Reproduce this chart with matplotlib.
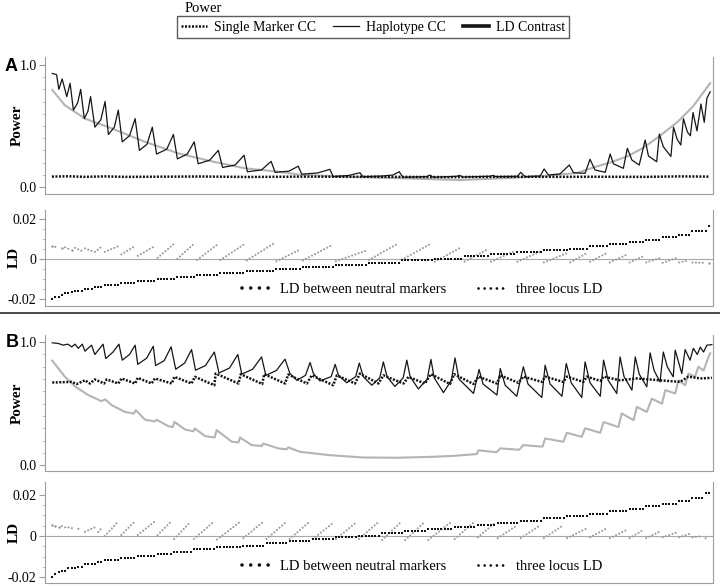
import matplotlib.pyplot as plt
from matplotlib.lines import Line2D
import numpy as np

plt.rcParams['font.family'] = ['Liberation Serif', 'DejaVu Serif']

# x axis is the marker pair index (0..199), y is power or LD

# ---- panel A, power curves: (index, power) vertices ----
a_haplotype = [
    (0.1, 0.93), (1.4, 0.92), (2.1, 0.80), (3.1, 0.885), (4.5, 0.74), (5.5, 0.85), (6.5, 0.63),
    (7.8, 0.69), (8.7, 0.80), (9.8, 0.56), (10.9, 0.62), (11.7, 0.74), (13.0, 0.49), (14.8, 0.55),
    (16.1, 0.70), (17.1, 0.43), (18.9, 0.49), (20.1, 0.63), (21.3, 0.37), (23.5, 0.42), (25.2, 0.56),
    (26.5, 0.30), (28.8, 0.35), (30.4, 0.49), (31.7, 0.27), (34.8, 0.31), (36.8, 0.43), (38.0, 0.23),
    (41.0, 0.27), (43.1, 0.37), (44.3, 0.19), (47.8, 0.22), (50.4, 0.30), (51.7, 0.16), (55.5, 0.18),
    (58.2, 0.26), (59.2, 0.125), (63.5, 0.14), (66.4, 0.21), (67.6, 0.12), (71.8, 0.13), (74.6, 0.17),
    (75.7, 0.105), (80.5, 0.115), (84.2, 0.145), (85.2, 0.085), (90.0, 0.095), (93.3, 0.117),
    (94.2, 0.085), (100.0, 0.09), (103.3, 0.098), (105.2, 0.125), (106.3, 0.08), (113.5, 0.085),
    (114.5, 0.098), (115.5, 0.08), (122.6, 0.088), (123.5, 0.095), (124.5, 0.082), (132.7, 0.088),
    (133.6, 0.095), (134.5, 0.085), (141.0, 0.088), (142.0, 0.12), (143.3, 0.085), (147.9, 0.09),
    (149.1, 0.148), (150.4, 0.098), (153.9, 0.107), (156.7, 0.18), (158.0, 0.117), (161.5, 0.112),
    (163.0, 0.227), (164.5, 0.14), (167.6, 0.12), (169.1, 0.27), (170.1, 0.19), (173.1, 0.153),
    (174.3, 0.317), (175.7, 0.22), (177.9, 0.18), (179.7, 0.385), (180.7, 0.254), (183.2, 0.207),
    (184.0, 0.434), (185.2, 0.33), (187.5, 0.25), (188.3, 0.49), (189.4, 0.39), (190.5, 0.344),
    (191.3, 0.56), (192.5, 0.45), (193.4, 0.42), (194.2, 0.61), (195.4, 0.46), (196.6, 0.68),
    (197.6, 0.53), (198.4, 0.727), (199.4, 0.78),
]
a_ld_contrast = [
    (0.1, 0.795), (3.9, 0.67), (10.0, 0.56), (18.1, 0.48), (28.2, 0.37), (38.3, 0.275), (48.4, 0.21),
    (58.5, 0.153), (68.6, 0.125), (75.2, 0.10), (84.2, 0.09), (93.3, 0.08), (103.3, 0.074),
    (123.6, 0.057), (138.8, 0.074), (148.8, 0.09), (159.1, 0.115), (164.0, 0.16), (169.0, 0.20),
    (174.2, 0.25), (179.1, 0.32), (184.2, 0.42), (189.4, 0.53), (194.2, 0.66), (199.4, 0.85),
]
a_single = [
    (0, 0.085), (5, 0.088), (10, 0.083), (16, 0.087), (22, 0.083), (30, 0.084), (45, 0.086),
    (60, 0.082), (75, 0.085), (90, 0.084), (105, 0.083), (120, 0.081), (135, 0.084), (150, 0.083),
    (165, 0.084), (180, 0.083), (190, 0.087), (199, 0.085),
]

# ---- panel A, LD: blocks of marker pairs (first, last index) ----
a_blk_first = [0, 1, 3, 4, 6, 7, 10, 13, 16, 21, 26, 32, 38, 44, 51, 59, 68, 76, 86, 96,
               106, 116, 125, 133, 141, 149, 157, 163, 169, 175, 180, 185, 190, 194, 199]
a_blk_last = [0, 2, 3, 5, 6, 9, 12, 15, 20, 25, 31, 37, 43, 50, 58, 67, 75, 85, 95, 105,
              115, 124, 132, 140, 148, 156, 162, 168, 174, 179, 184, 189, 193, 198, 199]
a_ld_neutral = [-0.0202, -0.0192, -0.018, -0.0172, -0.0165, -0.0163, -0.015, -0.0142, -0.0133,
                -0.0123, -0.0113, -0.0102, -0.0092, -0.0083, -0.0073, -0.0063, -0.0052, -0.0042,
                -0.0032, -0.0022, -0.0008, 0.0, 0.0012, 0.0025, 0.0033, 0.0042, 0.005, 0.0062,
                0.0073, 0.0083, 0.0095, 0.0107, 0.012, 0.0137, 0.0165]
a_three_first = [0.0062, 0.0060, 0.0055, 0.0058, 0.0045, 0.0055, 0.0052, 0.0035, 0.0035, 0.0022,
                 0.0015, 0.0005, 0.0, -0.0005, -0.0006, -0.0008, -0.0012, -0.0008, -0.0012, -0.0006,
                 -0.0005, -0.0014, -0.0014, -0.0014, -0.0014, -0.0018, -0.0018, -0.0014, -0.0018,
                 -0.0018, -0.0018, -0.002, -0.0018, -0.0018, -0.002]
a_three_last = [0.0062, 0.0058, 0.0055, 0.005, 0.0045, 0.004, 0.004, 0.006, 0.0062, 0.0062,
                0.0062, 0.0075, 0.0075, 0.007, 0.007, 0.0075, 0.0045, 0.007, 0.004, 0.0078,
                0.0078, 0.0058, 0.0048, 0.0037, 0.0037, 0.0028, 0.0028, 0.0028, 0.002, 0.0012,
                0.0003, 0.0003, -0.0008, -0.002, -0.002]

# ---- panel B, power curves ----
b_haplotype = [
    (0.1, 0.995), (1.9, 0.99), (3.4, 0.976), (4.8, 0.984), (6.0, 0.962), (7.0, 0.984), (8.0, 0.95),
    (9.2, 0.984), (10.0, 0.927), (12.0, 0.976), (13.0, 0.90), (15.5, 0.984), (16.3, 0.867),
    (18.5, 0.92), (20.3, 0.984), (21.3, 0.854), (23.5, 0.90), (25.2, 0.976), (26.0, 0.82),
    (28.7, 0.87), (30.7, 0.967), (31.4, 0.81), (34.0, 0.85), (36.1, 0.962), (37.5, 0.78),
    (40.2, 0.83), (42.3, 0.94), (43.5, 0.772), (46.5, 0.81), (49.2, 0.92), (50.6, 0.75),
    (53.8, 0.79), (56.3, 0.90), (57.5, 0.74), (60.8, 0.78), (63.5, 0.88), (64.8, 0.73), (68.0, 0.77),
    (70.6, 0.862), (72.1, 0.745), (74.2, 0.69), (76.8, 0.73), (78.2, 0.835), (79.2, 0.745),
    (81.2, 0.685), (84.6, 0.72), (85.8, 0.82), (86.8, 0.73), (89.3, 0.67), (92.0, 0.72), (93.1, 0.83),
    (94.3, 0.72), (96.9, 0.65), (99.3, 0.71), (100.4, 0.84), (101.5, 0.72), (103.9, 0.64),
    (106.4, 0.71), (107.5, 0.854), (108.5, 0.72), (111.0, 0.62), (113.7, 0.70), (114.8, 0.86),
    (115.8, 0.71), (118.6, 0.59), (121.0, 0.69), (122.1, 0.872), (123.3, 0.70), (127.7, 0.583),
    (129.4, 0.778), (130.6, 0.66), (134.8, 0.57), (135.8, 0.786), (137.3, 0.65), (140.8, 0.56),
    (142.8, 0.80), (144.2, 0.66), (148.4, 0.55), (149.4, 0.813), (150.9, 0.66), (154.5, 0.56),
    (155.8, 0.827), (157.3, 0.67), (160.5, 0.55), (161.5, 0.84), (163.0, 0.67), (166.1, 0.56),
    (167.1, 0.854), (168.5, 0.69), (171.1, 0.583), (172.1, 0.88), (173.3, 0.72), (175.7, 0.61),
    (176.7, 0.88), (177.9, 0.74), (180.2, 0.637), (181.2, 0.913), (182.4, 0.77), (184.2, 0.677),
    (185.2, 0.92), (186.4, 0.80), (188.2, 0.718), (188.8, 0.935), (190.8, 0.745), (191.8, 0.94),
    (193.3, 0.854), (194.3, 0.95), (195.5, 0.90), (196.4, 0.96), (197.4, 0.92), (198.4, 0.976),
    (199.9, 0.98),
]
b_ld_contrast = [
    (0.1, 0.85), (3.9, 0.72), (7.0, 0.64), (11.0, 0.57), (15.0, 0.52), (16.1, 0.535), (18.1, 0.488),
    (22.1, 0.433), (24.8, 0.42), (25.4, 0.447), (28.2, 0.37), (31.2, 0.355), (31.7, 0.37),
    (35.2, 0.317), (36.6, 0.31), (37.1, 0.352), (40.3, 0.29), (42.8, 0.275), (43.3, 0.298),
    (46.4, 0.236), (49.3, 0.225), (49.9, 0.285), (54.5, 0.19), (56.5, 0.185), (57.0, 0.225),
    (60.5, 0.163), (63.5, 0.155), (64.0, 0.176), (68.6, 0.136), (71.0, 0.128), (71.6, 0.144),
    (75.2, 0.108), (84.2, 0.081), (94.3, 0.062), (104.5, 0.06), (114.5, 0.067), (121.6, 0.075),
    (128.7, 0.09), (129.2, 0.12), (134.7, 0.105), (135.8, 0.136), (141.5, 0.125), (142.8, 0.163),
    (148.6, 0.15), (149.4, 0.217), (154.9, 0.19), (156.0, 0.263), (160.5, 0.23), (161.5, 0.30),
    (166.1, 0.263), (167.1, 0.35), (171.6, 0.31), (172.6, 0.42), (176.2, 0.366), (177.2, 0.474),
    (180.2, 0.433), (181.7, 0.54), (184.8, 0.50), (185.8, 0.61), (188.8, 0.583), (189.8, 0.69),
    (191.8, 0.65), (192.8, 0.745), (194.8, 0.718), (195.8, 0.80), (197.4, 0.77), (198.9, 0.88),
    (199.4, 0.91),
]
b_single = [
    (0.1, 0.672), (6.0, 0.677), (7.5, 0.66), (10.0, 0.69), (11.5, 0.664), (13.0, 0.697),
    (15.8, 0.664), (16.6, 0.697), (20.1, 0.664), (21.1, 0.705), (25.2, 0.664), (26.0, 0.71),
    (30.2, 0.664), (31.2, 0.705), (36.3, 0.664), (37.1, 0.718), (42.3, 0.664), (43.3, 0.718),
    (49.2, 0.65), (49.6, 0.745), (56.5, 0.664), (57.2, 0.74), (63.7, 0.66), (64.3, 0.74),
    (70.6, 0.664), (71.6, 0.737), (77.2, 0.664), (78.7, 0.73), (85.2, 0.65), (86.3, 0.73),
    (91.8, 0.664), (93.3, 0.745), (98.9, 0.664), (100.4, 0.73), (106.5, 0.664), (108.0, 0.718),
    (113.0, 0.664), (114.8, 0.74), (120.6, 0.66), (121.8, 0.74), (127.7, 0.66), (129.2, 0.72),
    (134.8, 0.664), (135.8, 0.73), (141.3, 0.67), (142.8, 0.72), (148.4, 0.677), (149.4, 0.72),
    (154.9, 0.677), (156.0, 0.72), (161.0, 0.677), (162.0, 0.72), (166.1, 0.685), (167.1, 0.72),
    (172.1, 0.69), (177.2, 0.705), (184.2, 0.69), (190.3, 0.677), (192.8, 0.72), (196.4, 0.705),
    (199.9, 0.71),
]

# ---- panel B, LD ----
b_blk_first = [0, 1, 2, 3, 5, 8, 10, 14, 16, 21, 26, 32, 37, 43, 50, 58, 65, 72, 79, 86,
               93, 100, 107, 114, 122, 129, 135, 142, 149, 156, 163, 169, 175, 180, 185, 190, 194, 198]
b_blk_last = [0, 1, 2, 4, 7, 9, 13, 15, 20, 25, 31, 36, 42, 49, 57, 64, 71, 78, 85, 92,
              99, 106, 113, 121, 128, 134, 141, 148, 155, 162, 168, 174, 179, 184, 189, 193, 197, 199]
b_ld_neutral = [-0.0196, -0.0183, -0.0175, -0.0167, -0.0156, -0.0148, -0.0137, -0.0125, -0.0116,
                -0.0106, -0.0096, -0.0087, -0.0076, -0.0064, -0.0055, -0.0047, -0.0035, -0.0024,
                -0.0016, -0.0006, 0.0, 0.0013, 0.0024, 0.0034, 0.0045, 0.0053, 0.0064, 0.0074,
                0.0085, 0.0096, 0.0109, 0.012, 0.0133, 0.0145, 0.0157, 0.017, 0.0185, 0.0206]
b_three_first = [0.0053, 0.005, 0.0045, 0.0048, 0.0042, 0.0035, 0.0021, 0.002, 0.0, 0.0005,
                 0.0005, 0.0005, -0.0014, -0.0014, -0.0017, -0.001, -0.0014, -0.0014, -0.0014,
                 -0.0014, -0.0014, -0.0019, -0.0019, -0.0019, -0.0014, -0.0006, -0.001, -0.001,
                 -0.001, -0.001, -0.0006, -0.001, -0.001, -0.001, -0.0006, -0.0006, -0.0006, -0.001]
b_three_last = [0.0053, 0.005, 0.0045, 0.0042, 0.0035, 0.0037, 0.0042, 0.0038, 0.0069, 0.0069,
                0.0069, 0.0069, 0.0069, 0.0069, 0.0069, 0.0069, 0.0069, 0.0069, 0.0061, 0.0064,
                0.0069, 0.0072, 0.0069, 0.0069, 0.0069, 0.0061, 0.0053, 0.0053, 0.0053, 0.0037,
                0.0037, 0.0029, 0.0029, 0.0021, 0.0016, 0.001, 0.0, -0.0006]

GRAY = '#b4b4b4'
LD_GRAY = '#9a9a9a'
SPINE = '#9c9c9c'
DOTS = dict(color='#111111', lw=1.8, linestyle=(0, (0.8, 0.6)), dash_capstyle='butt')


def style_axes(ax, ylim, ticks, labels, minor, ylabel, label_x):
    """Common look of the four panels: no x ticks, grey open frame, serif labels."""
    ax.set_xlim(-2.1, 200.3)
    ax.set_ylim(*ylim)
    ax.set_xticks([])
    ax.set_yticks(ticks)
    ax.set_yticklabels(labels)
    ax.set_yticks(minor, minor=True)
    ax.spines['top'].set_visible(False)
    for side in ['left', 'right', 'bottom']:
        ax.spines[side].set_color(SPINE)
        ax.spines[side].set_linewidth(0.8)
    ax.tick_params(axis='y', which='major', length=4, width=0.8, color=SPINE,
                   labelsize=10, pad=2)
    ax.tick_params(axis='y', which='minor', length=2, width=0.6, color='#bbbbbb')
    ax.set_ylabel(ylabel, fontsize=11, fontweight='bold')
    ax.yaxis.set_label_coords(label_x, 0.5)


def plot_power(ax, single, haplotype, contrast):
    """Draw the three power curves of one panel."""
    x, y = zip(*contrast)
    ax.plot(x, y, color=GRAY, lw=1.5, zorder=2)
    x, y = zip(*haplotype)
    ax.plot(x, y, color='#151515', lw=0.9, zorder=3)
    x, y = zip(*single)
    ax.plot(x, y, zorder=4, **DOTS)
    style_axes(ax, ax.get_ylim(), [0.0, 1.0], ['0.0', '1.0'],
               np.arange(0.1, 1.0, 0.1), 'Power', -0.032)


def plot_ld(ax, first, last, neutral, three_first, three_last, ylim):
    """Draw LD between neutral markers (black steps) and three locus LD (grey runs)."""
    ax.axhline(0, color='#a8a8a8', lw=0.8, zorder=1)
    for s, e, y0, y1 in zip(first, last, three_first, three_last):
        if s == e:
            ax.plot([s], [y0], marker='o', ms=1.8, mew=0, color=LD_GRAY, zorder=2)
        else:
            ax.plot([s, e], [y0, y1], color=LD_GRAY, lw=1.5,
                    linestyle=(0, (0.05, 1.6)), dash_capstyle='round', zorder=2)
    xs = np.concatenate([np.arange(s, e + 1) for s, e in zip(first, last)])
    ys = np.concatenate([np.full(e - s + 1, v) for s, e, v in zip(first, last, neutral)])
    ax.plot(xs, ys, linestyle='none', marker='s', ms=2.1, mew=0, color='#111111', zorder=3)
    style_axes(ax, ylim, [-0.02, 0, 0.02], ['-0.02', '0', '0.02'],
               np.arange(-0.02, 0.021, 0.005), 'LD', -0.036)
    h1 = Line2D([], [], color='#111111', lw=2.6, linestyle=(0, (0.01, 2.4)),
                dash_capstyle='round')
    h2 = Line2D([], [], color='#111111', lw=2.0, linestyle=(0, (0.01, 2.2)),
                dash_capstyle='round')
    ax.legend([h1, h2], ['LD between neutral markers', 'three locus LD'],
              loc='lower center', bbox_to_anchor=(0.565, -0.035), ncol=2, frameon=False,
              fontsize=10.5, handlelength=2.0, columnspacing=2.2, handletextpad=0.6)


fig = plt.figure(figsize=(7.2, 5.86), dpi=100)

ax_a = fig.add_axes([0.0625, 0.669, 0.928, 0.234])
ax_a.set_ylim(-0.057, 1.066)
plot_power(ax_a, a_single, a_haplotype, a_ld_contrast)

ax_a_ld = fig.add_axes([0.0625, 0.478, 0.928, 0.164])
plot_ld(ax_a_ld, a_blk_first, a_blk_last, a_ld_neutral, a_three_first, a_three_last,
        (-0.0235, 0.0245))

ax_b = fig.add_axes([0.0625, 0.196, 0.928, 0.232])
ax_b.set_ylim(-0.049, 1.057)
plot_power(ax_b, b_single, b_haplotype, b_ld_contrast)

ax_b_ld = fig.add_axes([0.0625, 0.005, 0.928, 0.172])
plot_ld(ax_b_ld, b_blk_first, b_blk_last, b_ld_neutral, b_three_first, b_three_last,
        (-0.0227, 0.026))

# separator between the two panels
fig.add_artist(Line2D([0, 1], [0.466, 0.466], transform=fig.transFigure, color='#3a3a3a', lw=1.3))

fig.text(0.006, 0.887, 'A', fontsize=13, fontweight='bold', family='Liberation Sans', va='center')
fig.text(0.008, 0.416, 'B', fontsize=13, fontweight='bold', family='Liberation Sans', va='center')

# top legend
handles = [Line2D([], [], **DOTS),
           Line2D([], [], color='#151515', lw=0.9),
           Line2D([], [], color='#151515', lw=2.6)]
leg = fig.legend(handles, ['Single Marker CC', 'Haplotype CC', 'LD Contrast'],
                 loc='upper center', bbox_to_anchor=(0.518, 0.972), ncol=3, frameon=True,
                 fancybox=False, edgecolor='#333333', fontsize=10, handlelength=1.9,
                 columnspacing=1.2, borderpad=0.3, handletextpad=0.5, borderaxespad=0)
leg.get_frame().set_linewidth(1.0)
fig.text(0.257, 0.986, 'Power', fontsize=10.5, va='center')

fig.savefig('out.png', dpi=100)
